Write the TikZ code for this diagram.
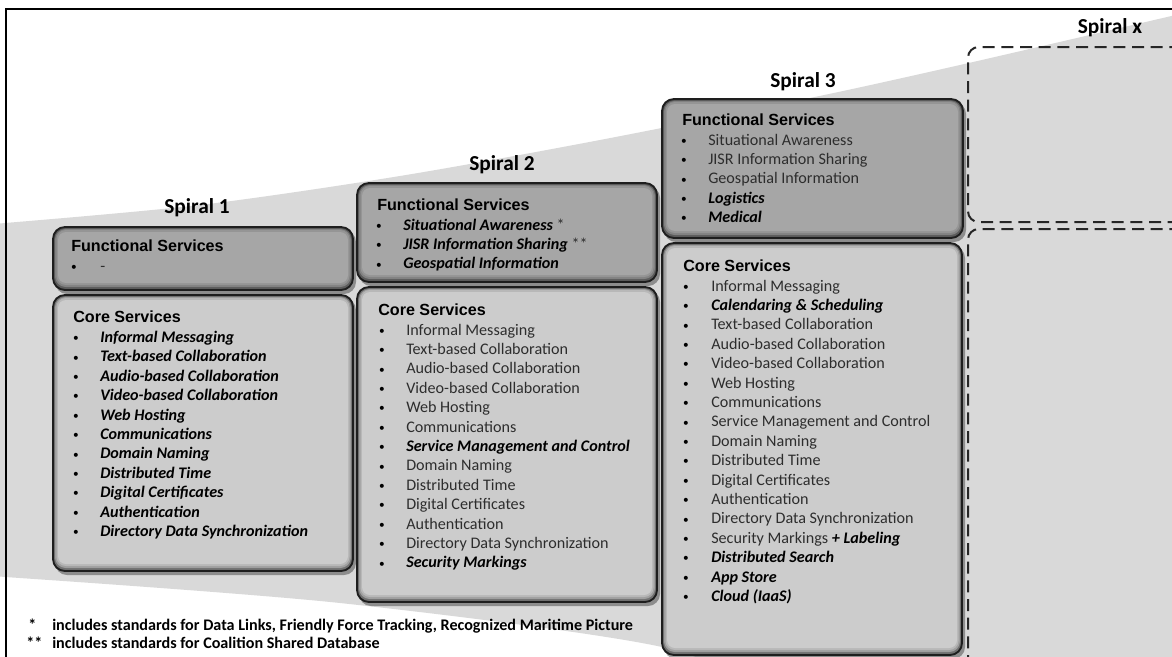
\documentclass[tikz,border=0pt]{standalone}
\usepackage{fontspec}
\setmainfont{Carlito}
\newfontfamily\arialf{Liberation Sans}
\definecolor{funnelc}{RGB}{217,217,217}
\definecolor{funcc}{RGB}{166,166,166}
\definecolor{corec}{RGB}{204,204,204}
\definecolor{edgec}{RGB}{30,30,30}
\definecolor{txtc}{RGB}{45,45,45}
\newcommand\nw[1]{{\bfseries\itshape\color{black}#1}}
\newcommand\bevelbox[5]{%
  \fill[black,opacity=0.35,rounded corners=9pt] (#1+2,#2+3) rectangle (#3+3,#4+4);
  \fill[#5!55!black,rounded corners=9pt] (#1,#2) rectangle (#3,#4);
  \fill[#5!78!black,rounded corners=8pt] (#1+2,#2+2) rectangle (#3-2,#4-3);
  \fill[#5!90!black,rounded corners=7pt] (#1+3.5,#2+3) rectangle (#3-3.5,#4-5);
  \fill[#5,rounded corners=6pt] (#1+5,#2+5) rectangle (#3-5,#4-7);
  \draw[edgec,line width=1.4pt,rounded corners=9pt] (#1,#2) rectangle (#3,#4);
}
\newcommand\itemlist[5]{%
  \foreach \t [count=\i from 0] in {#5} {
    \node[bul] (#1b\i) at (#2,#4+19.4*\i) {\textbullet};
    \node[itm] (#1t\i) at (#3,#4+19.4*\i) {\t};
  }%
}
\tikzset{
  itm/.style={anchor=base west,inner sep=0pt,font=\fontsize{12.1}{14}\selectfont,text=txtc},
  bul/.style={anchor=base,inner sep=0pt,font=\fontsize{8.5}{10}\selectfont,text=black,yshift=0.6pt},
  hdr/.style={anchor=base west,inner sep=0pt,font=\arialf\bfseries\fontsize{12.1}{14}\selectfont,text=black},
  spl/.style={inner sep=0pt,font=\bfseries\fontsize{16}{18}\selectfont,text=black},
  fnote/.style={anchor=base west,inner sep=0pt,font=\bfseries\fontsize{12.1}{14}\selectfont,text=black},
  dashbox/.style={draw=black!85,line width=1.5pt,dash pattern=on 9pt off 5pt,rounded corners=8pt}
}
\begin{document}
\begin{tikzpicture}[x=0.75pt,y=-0.75pt]
\useasboundingbox (0,0) rectangle (1172,657);
\clip (0,0) rectangle (1172,657);
\fill[white] (0,0) rectangle (1172,657);
% funnel
\fill[funnelc] (0,223.5) -- plot[smooth] coordinates {(5,223) (200,205) (400,176) (600,140) (810,98) (960,65) (1180,14)}
  -- (1180,720) -- plot[smooth] coordinates {(780,700) (662,647) (340,603) (5,577)} -- (0,576.5) -- cycle;
% frame
\draw[black,line width=1.6pt] (1200,9) -- (6,9) -- (6,700);
% Spiral labels
\node[spl] (s1) at (197,208) {Spiral 1};
\node[spl] (s2) at (502,165) {Spiral 2};
\node[spl] (s3) at (803,82) {Spiral 3};
\node[spl] (sx) at (1110,28) {Spiral x};
% Spiral 1
\bevelbox{53}{227}{353}{290}{funcc}
\node[hdr] (f1h) at (71,251.5) {Functional Services};
\itemlist{f1}{74}{100}{271}{-}
\bevelbox{53}{295}{353}{571}{corec}
\node[hdr] (c1h) at (73,322.5) {Core Services};
\itemlist{c1}{76}{100}{342.5}{{\nw{Informal Messaging}},{\nw{Text-based Collaboration}},{\nw{Audio-based Collaboration}},{\nw{Video-based Collaboration}},{\nw{Web Hosting}},{\nw{Communications}},{\nw{Domain Naming}},{\nw{Distributed Time}},{\nw{Digital Certificates}},{\nw{Authentication}},{\nw{Directory Data Synchronization}}}
% Spiral 2
\bevelbox{357}{183}{657}{282}{funcc}
\node[hdr] (f2h) at (377,210.5) {Functional Services};
\itemlist{f2}{379}{403}{230}{{\nw{Situational Awareness} *},{\nw{JISR Information Sharing} **},{\nw{Geospatial Information}}}
\bevelbox{357}{287}{657}{602}{corec}
\node[hdr] (c2h) at (378,315.5) {Core Services};
\itemlist{c2}{382}{406}{335}{Informal Messaging,Text-based Collaboration,Audio-based Collaboration,Video-based Collaboration,Web Hosting,Communications,{\nw{Service Management and Control}},Domain Naming,Distributed Time,Digital Certificates,Authentication,Directory Data Synchronization,{\nw{Security Markings}}}
% Spiral 3
\bevelbox{662}{99}{963}{238}{funcc}
\node[hdr] (f3h) at (682,125.5) {Functional Services};
\itemlist{f3}{684}{708}{145}{Situational Awareness,JISR Information Sharing,Geospatial Information,{\nw{Logistics}},{\nw{Medical}}}
\bevelbox{662}{243}{962}{655}{corec}
\node[hdr] (c3h) at (683,271.5) {Core Services};
\itemlist{c3}{686}{711}{291}{Informal Messaging,{\nw{Calendaring \& Scheduling}},Text-based Collaboration,Audio-based Collaboration,Video-based Collaboration,Web Hosting,Communications,Service Management and Control,Domain Naming,Distributed Time,Digital Certificates,Authentication,Directory Data Synchronization,{Security Markings \nw{+ Labeling}},{\nw{Distributed Search}},{\nw{App Store}},{\nw{Cloud (IaaS)}}}
% Spiral x
\draw[dashbox] (1200,47) -- (968,47) -- (968,222) -- (1200,222);
\draw[dashbox] (1200,229) -- (968,229) -- (968,720);
% footnotes
\node[fnote] (n1s) at (28,630) {*};
\node[fnote] (n1) at (52,630) {includes standards for Data Links, Friendly Force Tracking, Recognized Maritime Picture};
\node[fnote] (n2s) at (26,648) {**};
\node[fnote] (n2) at (52,648) {includes standards for Coalition Shared Database};
\end{tikzpicture}
\end{document}
